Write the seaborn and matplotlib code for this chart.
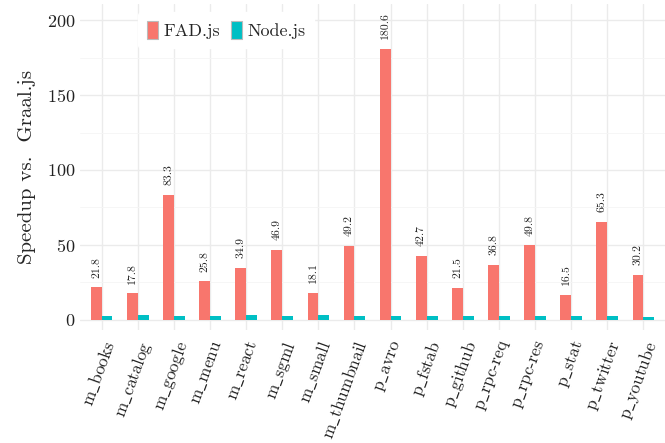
import matplotlib
matplotlib.use("Agg")
import matplotlib.pyplot as plt
import seaborn as sns
import pandas as pd
from matplotlib.ticker import MultipleLocator

benchmarks = ["m_books", "m_catalog", "m_google", "m_menu", "m_react", "m_sgml",
              "m_small", "m_thumbnail", "p_avro", "p_fstab", "p_github", "p_rpc-req",
              "p_rpc-res", "p_stat", "p_twitter", "p_youtube"]
fad = [21.8, 17.8, 83.3, 25.8, 34.9, 46.9, 18.1, 49.2, 180.6, 42.7, 21.5, 36.8,
       49.8, 16.5, 65.3, 30.2]
node = [2.8, 3.4, 2.8, 2.8, 3.4, 2.8, 3.4, 2.8, 2.8, 2.8, 2.8, 2.8, 2.8, 2.8, 2.8, 2.1]
systems = ["FAD.js", "Node.js"]
colors = ["#F8766D", "#00BFC4"]

df = pd.DataFrame({
    "benchmark": benchmarks * 2,
    "speedup": fad + node,
    "system": [systems[0]] * len(benchmarks) + [systems[1]] * len(benchmarks),
})

sns.set_theme(style="white")
plt.rcParams["font.family"] = ["cmr10", "DejaVu Serif"]
plt.rcParams["mathtext.fontset"] = "cm"
plt.rcParams["axes.formatter.use_mathtext"] = True

fig = plt.figure(figsize=(6.65, 4.43), dpi=100)
ax = fig.add_axes([80 / 665, 1 - 330 / 443, 585 / 665, 326 / 443])

sns.barplot(data=df, x="benchmark", y="speedup", hue="system", order=benchmarks,
            hue_order=systems, palette=colors, width=0.6, saturation=1,
            linewidth=0, ax=ax, zorder=3)

ax.set_xlim(-0.6, len(benchmarks) - 0.4)
ax.set_ylim(-6.7, 210.7)
ax.yaxis.set_major_locator(MultipleLocator(50))
ax.yaxis.set_minor_locator(MultipleLocator(25))
ax.grid(True, which="major", axis="both", color="#EBEBEB", linewidth=1.0, zorder=0)
ax.grid(True, which="minor", axis="y", color="#F5F5F5", linewidth=0.6, zorder=0)
ax.set_axisbelow(True)
for s in ax.spines.values():
    s.set_visible(False)
ax.tick_params(axis="both", length=0, labelsize=13, colors="#222222")
ax.tick_params(axis="x", labelsize=12.5, pad=6)
ax.set_xticks(range(len(benchmarks)))
ax.set_xticklabels([b.replace("_", r"$\_$") for b in benchmarks], rotation=70,
                   ha="right", rotation_mode="anchor")
ax.set_xlabel("")
ax.set_ylabel("Speedup vs.  Graal.js", fontsize=15, labelpad=8)

fad_bars = ax.containers[0]
ax.bar_label(fad_bars, labels=[f"{v:.1f}" for v in fad], rotation=90,
             padding=7, fontsize=8.5)

leg = ax.legend(loc="center", bbox_to_anchor=(0.25, 0.92), ncol=2, frameon=True,
                fontsize=13, handlelength=0.6, handleheight=1.1, handletextpad=0.3,
                columnspacing=0.6, borderpad=0.5)
leg.get_frame().set_facecolor("white")
leg.get_frame().set_edgecolor("white")
leg.get_frame().set_alpha(1)
for h in leg.legend_handles:
    h.set_edgecolor("#BBBBBB")
    h.set_linewidth(0.8)

fig.savefig("out.png", dpi=100)
